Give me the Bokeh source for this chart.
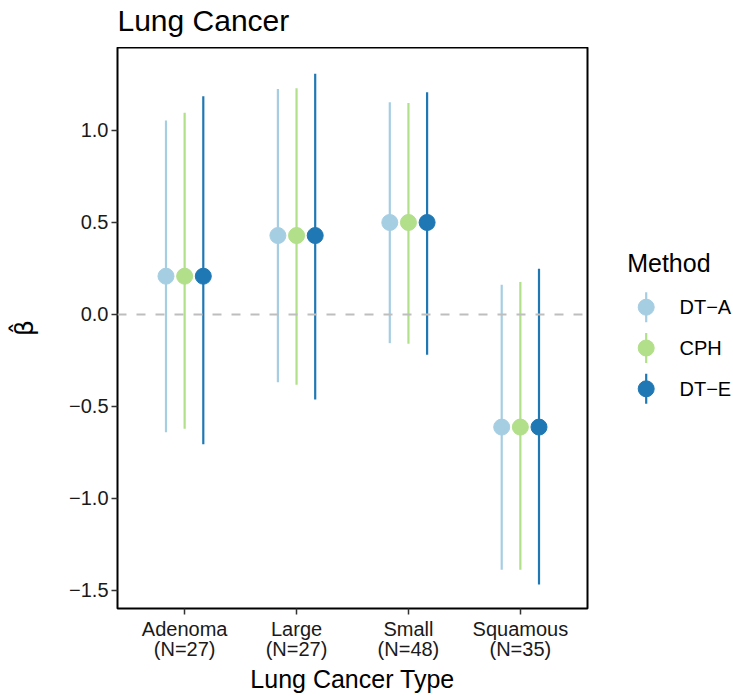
from bokeh.plotting import figure
from bokeh.models import Span, FixedTicker, CustomJSTickFormatter, Range1d, ColumnDataSource
from bokeh.layouts import row, column
from bokeh.embed import file_html
from bokeh.resources import INLINE
from bokeh.core.properties import value

# ---------------- data ----------------
categories = ["Adenoma", "Large", "Small", "Squamous"]
sample_sizes = [27, 27, 48, 35]
methods = ["DT\u2212A", "CPH", "DT\u2212E"]
colors = ["#A6CEE3", "#B2DF8A", "#1F78B4"]

est_dta = [0.208, 0.429, 0.500, -0.612]
lo_dta = [-0.640, -0.368, -0.156, -1.388]
hi_dta = [1.054, 1.226, 1.154, 0.161]

est_cph = [0.208, 0.429, 0.500, -0.612]
lo_cph = [-0.621, -0.382, -0.159, -1.388]
hi_cph = [1.096, 1.230, 1.150, 0.176]

est_dte = [0.208, 0.429, 0.500, -0.612]
lo_dte = [-0.705, -0.462, -0.219, -1.467]
hi_dte = [1.186, 1.308, 1.208, 0.248]

y_ticks = [-1.5, -1.0, -0.5, 0.0, 0.5, 1.0]
title_text = "Lung Cancer"

FONT = "Liberation Sans"
series = [(est_dta, lo_dta, hi_dta), (est_cph, lo_cph, hi_cph), (est_dte, lo_dte, hi_dte)]
dodge_width = 0.5

# ---------------- title strip (47 px high, frame matches main frame columns) ----------------
tf = figure(width=733, height=47, x_range=Range1d(0, 470), y_range=Range1d(47, 0),
            min_border_left=117, min_border_right=146, min_border_top=0, min_border_bottom=0,
            toolbar_location=None, output_backend="svg",
            x_axis_location=None, y_axis_location=None,
            outline_line_color=None, background_fill_color="white",
            border_fill_color="white")
tf.grid.visible = False
tf.text(x=[0], y=[20], text=[title_text], text_font=value(FONT),
        text_font_size="30px", text_baseline="middle", text_align="left",
        text_color="black")

# ---------------- main figure ----------------
p = figure(frame_width=470, frame_height=561,
           x_range=Range1d(0.4, 4.6), y_range=Range1d(-1.598, 1.451),
           output_backend="svg", toolbar_location=None,
           min_border_left=117, min_border_right=13,
           min_border_top=0, min_border_bottom=88,
           background_fill_color="white", border_fill_color="white")

p.grid.visible = False
p.outline_line_color = "black"
p.outline_line_width = 2

zero = Span(location=0, dimension="width", line_color="#BEBEBE",
            line_width=2, line_dash="9 10")
p.add_layout(zero)

xpos = list(range(1, len(categories) + 1))
for i, (est, lo, hi) in enumerate(series):
    off = (i - 1) * dodge_width / 3
    xs = [x + off for x in xpos]
    src = ColumnDataSource(dict(x=xs, est=est, lo=lo, hi=hi))
    p.segment(x0="x", y0="lo", x1="x", y1="hi", source=src,
              line_color=colors[i], line_width=2.2)
    p.scatter(x="x", y="est", source=src, size=16,
              fill_color=colors[i], line_color=colors[i])

x_labels = [f"{c}\n(N={n})" for c, n in zip(categories, sample_sizes)]
p.xaxis.ticker = FixedTicker(ticks=xpos)
p.xaxis.formatter = CustomJSTickFormatter(args=dict(labels=x_labels),
                                          code="return labels[Math.round(tick) - 1];")
p.yaxis.ticker = FixedTicker(ticks=y_ticks)
p.yaxis.formatter = CustomJSTickFormatter(
    code="return tick.toFixed(1).replace('-', '\\u2212');")

for ax in (p.xaxis[0], p.yaxis[0]):
    ax.axis_line_color = None
    ax.major_tick_in = 0
    ax.major_tick_out = 6
    ax.major_tick_line_color = "#333333"
    ax.major_tick_line_width = 1.5
    ax.minor_tick_line_color = None
    ax.major_label_text_font = FONT
    ax.major_label_text_font_size = "20px"
    ax.major_label_text_color = "#1a1a1a"
    ax.major_label_standoff = 3
    ax.axis_label_text_font = FONT
    ax.axis_label_text_font_size = "25px"
    ax.axis_label_text_font_style = "normal"
    ax.axis_label_text_color = "black"

p.xaxis.major_label_text_line_height = 0.95
p.xaxis.axis_label = "Lung Cancer Type"
p.xaxis.axis_label_standoff = 2
p.yaxis.axis_label = "\u03b2\u0302"
p.yaxis.axis_label_text_font = "DejaVu Sans"
p.yaxis.axis_label_standoff = 27

# ---------------- legend figure ----------------
# frame is aligned with the main frame (page rows 47..608), so data y == page pixel row
lg = figure(width=133, height=649, x_range=Range1d(600, 733), y_range=Range1d(608, 47),
            min_border=0, toolbar_location=None, output_backend="svg",
            x_axis_location=None, y_axis_location=None,
            outline_line_color=None, background_fill_color="white",
            border_fill_color="white")
lg.grid.visible = False

lg.text(x=[626.7], y=[262], text=["Method"], text_font=value(FONT),
        text_font_size="25px", text_baseline="middle", text_align="left",
        text_color="black")
key_x = 645.7
first_y = 306.7
step = 40.8
ky = [first_y + step * i for i in range(len(methods))]
lg.segment(x0=[key_x] * 3, y0=[y - 15 for y in ky], x1=[key_x] * 3, y1=[y + 15 for y in ky],
           line_color=colors, line_width=2.2)
lg.scatter(x=[key_x] * 3, y=ky, size=16, fill_color=colors, line_color=colors)
lg.text(x=[679] * 3, y=ky, text=methods, text_font=value(FONT),
        text_font_size="20px", text_baseline="middle", text_align="left",
        text_color="black")

layout = column(tf, row(p, lg, spacing=0), spacing=0)
open("out.html", "w").write(file_html(layout, INLINE))
